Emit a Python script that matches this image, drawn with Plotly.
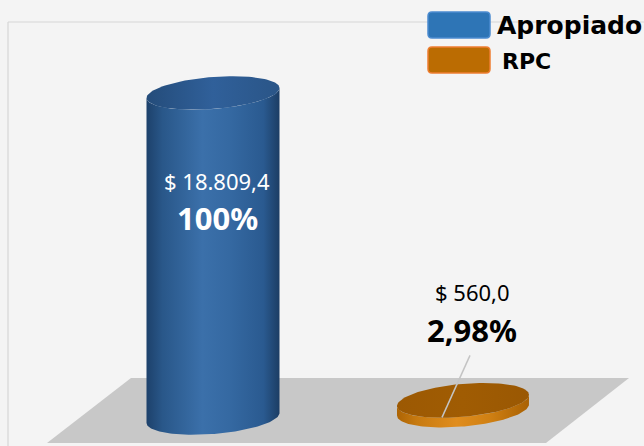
import numpy as np
import plotly.graph_objects as go

# ---------------- data ----------------
categories = ["Apropiado", "RPC"]
values = [18809.4, 560.0]
value_labels = ["$ 18.809,4", "$ 560,0"]

# ---------------- style ----------------
W, H = 644, 446
BG = "#f4f4f4"
X_RANGE = [-0.852, 1.724]          # 250 px per category unit
Y_RANGE = [-1620.5, 24192.0]       # value axis (57.875 value units per px)
U_PER_PX_Y = (Y_RANGE[1] - Y_RANGE[0]) / H
U_PER_PX_X = (X_RANGE[1] - X_RANGE[0]) / W

half_w_px = [66.5, 66.0]
ell_b_px = [16.0, 16.5]
base_px_offset = [0.0, -8.0]       # perspective depth offset (pixels, downwards)
tilt = [0.075, 0.085]              # right side higher (px per px)

body_scales = [
    [[0, "#1d416b"], [0.12, "#295789"], [0.42, "#3b70aa"], [0.62, "#3569a2"], [0.88, "#2a5a90"], [1, "#1c3d64"]],
    [[0, "#ad6404"], [0.15, "#c77a10"], [0.45, "#e08d1e"], [0.7, "#d08013"], [1, "#a96103"]],
]
top_scales = [
    [[0, "#244c7a"], [0.5, "#30609a"], [1, "#2a5587"]],
    [[0, "#9c5903"], [0.5, "#a05c03"], [1, "#9a5803"]],
]
legend_fill = ["#2e75b6", "#bb6c02"]
legend_line = ["#4b8bd0", "#ee7d30"]
label_colors = ["white", "black"]


def arc(xc, yc, a, b, s, t0, t1, n=80):
    t = np.linspace(t0, t1, n)
    dx = a * np.cos(t)
    x = xc + dx
    y = yc + b * np.sin(t) + s * (dx / U_PER_PX_X) * U_PER_PX_Y
    return x, y


fig = go.Figure()

# floor (decorative, paper coords)
floor = [(131, 378), (629, 378), (546, 443), (47, 443)]
path = "M " + " L ".join(f"{x / W:.4f},{1 - y / H:.4f}" for x, y in floor) + " Z"
fig.add_shape(type="path", path=path, xref="paper", yref="paper",
              fillcolor="#c8c8c8", line=dict(width=0), layer="below")
# plot area border lines
fig.add_shape(type="line", xref="paper", yref="paper", x0=8 / W, x1=1, y0=1 - 22 / H, y1=1 - 22 / H,
              line=dict(color="#d6d6d6", width=1.2), layer="below")
fig.add_shape(type="line", xref="paper", yref="paper", x0=8 / W, x1=8 / W, y0=1 - 22 / H, y1=0,
              line=dict(color="#d6d6d6", width=1.2), layer="below")

for i, (cat, v) in enumerate(zip(categories, values)):
    a = half_w_px[i] * U_PER_PX_X
    b = ell_b_px[i] * U_PER_PX_Y
    base = -base_px_offset[i] * U_PER_PX_Y
    top = base + v
    s = tilt[i]
    bx, by = arc(i, base, a, b, s, np.pi, 2 * np.pi)
    tx, ty = arc(i, top, a, b, s, 2 * np.pi, np.pi)
    xs = np.concatenate([bx, tx, [bx[0]]])
    ys = np.concatenate([by, ty, [by[0]]])
    fig.add_trace(go.Scatter(
        x=xs, y=ys, mode="lines", fill="toself", line=dict(width=0),
        fillgradient=dict(type="horizontal", colorscale=body_scales[i]),
        hoverinfo="skip", showlegend=False, name=cat))
    ex, ey = arc(i, top, a, b, s, 0, 2 * np.pi, 120)
    fig.add_trace(go.Scatter(
        x=ex, y=ey, mode="lines", fill="toself", line=dict(width=0),
        fillgradient=dict(type="horizontal", colorscale=top_scales[i]),
        hoverinfo="skip", showlegend=False, name=cat))

# data labels
total = values[0]
pct_labels = []
for v in values:
    p = v / total * 100
    pct_labels.append(f"{p:.0f}%" if abs(p - 100) < 1e-9 else f"{p:.2f}%".replace(".", ","))

label_cfg = [
    dict(xshift=4, yshift_val=-88, yshift_pct=-125),
    dict(xshift=9, yshift_val=108, yshift_pct=70),
]
for i, v in enumerate(values):
    top = -base_px_offset[i] * U_PER_PX_Y + v
    fig.add_annotation(x=i, y=top, text=value_labels[i], showarrow=False,
                       xshift=label_cfg[i]["xshift"], yshift=label_cfg[i]["yshift_val"],
                       font=dict(family="Noto Sans", size=22, color=label_colors[i]))
    fig.add_annotation(x=i, y=top, text=f"<b>{pct_labels[i]}</b>", showarrow=False,
                       xshift=label_cfg[i]["xshift"], yshift=label_cfg[i]["yshift_pct"],
                       font=dict(family="Noto Sans", size=31, color=label_colors[i]))

# leader line for small bar
top1 = -base_px_offset[1] * U_PER_PX_Y + values[1]
fig.add_shape(type="line", xref="x", yref="y",
              x0=1 - 21 * U_PER_PX_X, y0=top1 - 17 * U_PER_PX_Y,
              x1=1 + 7 * U_PER_PX_X, y1=top1 + 45 * U_PER_PX_Y,
              line=dict(color="#c4c4c4", width=1.5))

# legend (custom)
leg_boxes = [(428, 12, 490, 38), (428, 47, 490, 73)]
leg_text_x = [495, 500]
leg_text_y = [25, 61]
leg_size = [25, 22]
r = 4
for i, cat in enumerate(categories):
    x0, y0, x1, y1 = leg_boxes[i]

    def P(x, y):
        return f"{x / W:.5f},{1 - y / H:.5f}"
    p = (f"M {P(x0 + r, y0)} L {P(x1 - r, y0)} Q {P(x1, y0)} {P(x1, y0 + r)} "
         f"L {P(x1, y1 - r)} Q {P(x1, y1)} {P(x1 - r, y1)} L {P(x0 + r, y1)} "
         f"Q {P(x0, y1)} {P(x0, y1 - r)} L {P(x0, y0 + r)} Q {P(x0, y0)} {P(x0 + r, y0)} Z")
    fig.add_shape(type="path", path=p, xref="paper", yref="paper",
                  fillcolor=legend_fill[i], line=dict(color=legend_line[i], width=1.5))
    fig.add_annotation(x=leg_text_x[i] / W, y=1 - leg_text_y[i] / H, xref="paper", yref="paper",
                       text=f"<b>{cat}</b>", showarrow=False, xanchor="left", yanchor="middle",
                       font=dict(family="DejaVu Sans", size=leg_size[i], color="black"))

fig.update_layout(
    width=W, height=H, margin=dict(l=0, r=0, t=0, b=0),
    paper_bgcolor=BG, plot_bgcolor=BG,
    xaxis=dict(range=X_RANGE, visible=False, fixedrange=True),
    yaxis=dict(range=Y_RANGE, visible=False, fixedrange=True),
    showlegend=False,
)
fig.write_html("out.html", config={"displayModeBar": False},
               post_script="document.body.style.margin='0';")
